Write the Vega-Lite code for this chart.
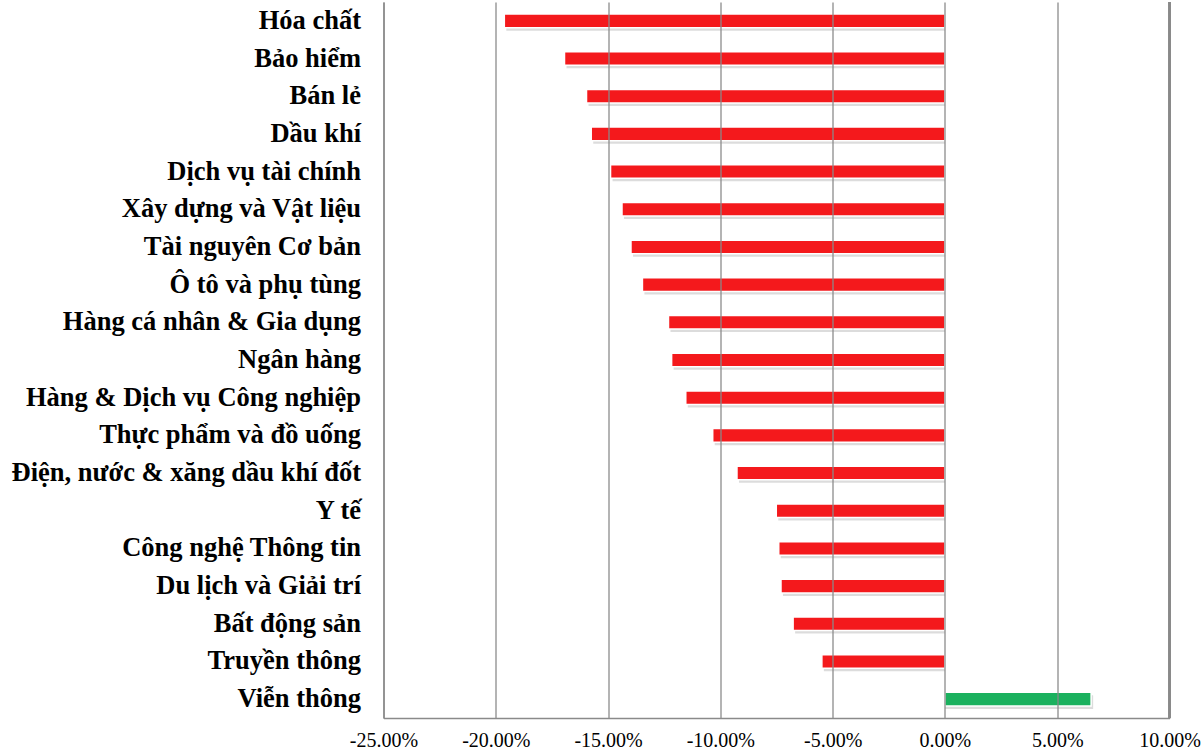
{
  "$schema": "https://vega.github.io/schema/vega-lite/v6.json",
  "width": 786,
  "height": 716,
  "autosize": {"type": "none"},
  "padding": {"left": 383.5, "top": 2, "right": 34, "bottom": 35},
  "background": "white",
  "config": {"view": {"stroke": null}},
  "data": {
    "values": [
      {"sector": "Hóa chất", "value": -0.1962},
      {"sector": "Bảo hiểm", "value": -0.1694},
      {"sector": "Bán lẻ", "value": -0.1596},
      {"sector": "Dầu khí", "value": -0.1575},
      {"sector": "Dịch vụ tài chính", "value": -0.1489},
      {"sector": "Xây dựng và Vật liệu", "value": -0.1438},
      {"sector": "Tài nguyên Cơ bản", "value": -0.1398},
      {"sector": "Ô tô và phụ tùng", "value": -0.1347},
      {"sector": "Hàng cá nhân & Gia dụng", "value": -0.1231},
      {"sector": "Ngân hàng", "value": -0.1217},
      {"sector": "Hàng & Dịch vụ Công nghiệp", "value": -0.1154},
      {"sector": "Thực phẩm và đồ uống", "value": -0.1034},
      {"sector": "Điện, nước & xăng dầu khí đốt", "value": -0.0926},
      {"sector": "Y tế", "value": -0.0751},
      {"sector": "Công nghệ Thông tin", "value": -0.0740},
      {"sector": "Du lịch và Giải trí", "value": -0.0730},
      {"sector": "Bất động sản", "value": -0.0676},
      {"sector": "Truyền thông", "value": -0.0548},
      {"sector": "Viễn thông", "value": 0.0651}
    ]
  },
  "encoding": {
    "y": {
      "field": "sector",
      "type": "nominal",
      "sort": {"field": "value", "order": "ascending"},
      "scale": {"paddingInner": 0.64, "paddingOuter": 0.32},
      "axis": {
        "title": null,
        "domain": true,
        "domainColor": "#8a8a8a",
        "domainWidth": 1.5,
        "ticks": false,
        "labelFont": "Liberation Serif",
        "labelFontWeight": "bold",
        "labelFontSize": 26.5,
        "labelColor": "#000000",
        "labelPadding": 23,
        "labelLimit": 400
      }
    },
    "x": {
      "field": "value",
      "type": "quantitative",
      "scale": {"domain": [-0.25, 0.10], "nice": false, "zero": false},
      "axis": {
        "title": null,
        "format": ".2%",
        "labelExpr": "replace(format(datum.value, '.2%'), '\u2212', '-')",
        "values": [-0.25, -0.2, -0.15, -0.1, -0.05, 0, 0.05, 0.1],
        "grid": true,
        "gridColor": "#8a8a8a",
        "gridWidth": 1.5,
        "gridOpacity": 0.85,
        "domain": true,
        "domainColor": "#8a8a8a",
        "domainWidth": 1.5,
        "ticks": false,
        "labelFlush": false,
        "labelOverlap": false,
        "labelFont": "Liberation Serif",
        "labelFontSize": 20,
        "labelColor": "#000000",
        "labelPadding": 12,
        "zindex": 1
      }
    }
  },
  "layer": [
    {
      "mark": {"type": "bar", "color": "#9a9a9a", "opacity": 0.35, "xOffset": 2, "yOffset": 3},
      "encoding": {"x2": {"datum": 0}}
    },
    {
      "mark": {"type": "bar", "stroke": "#ffffff", "strokeWidth": 1.5},
      "encoding": {
        "x2": {"datum": 0},
        "color": {
          "condition": {"test": "datum.value > 0", "value": "#1BB15E"},
          "value": "#F4191C"
        }
      }
    },
    {
      "mark": {"type": "rule", "color": "#8a8a8a", "strokeWidth": 1.5},
      "encoding": {"x": {"datum": 0.1}, "y": null}
    }
  ]
}
